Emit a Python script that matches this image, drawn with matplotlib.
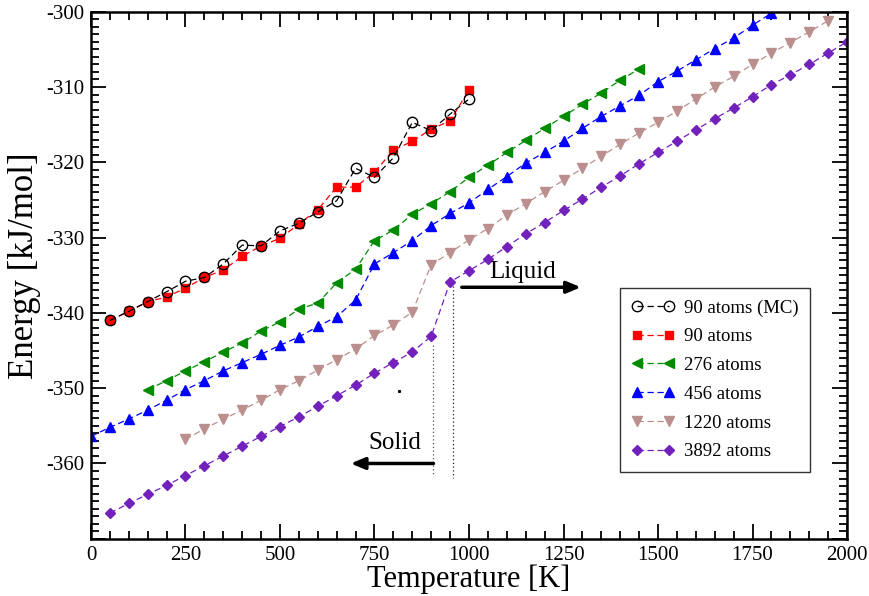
import matplotlib
matplotlib.use("Agg")
import matplotlib.pyplot as plt
from matplotlib.ticker import MultipleLocator, FuncFormatter

plt.rcParams["font.family"] = ["Liberation Serif", "DejaVu Serif"]
plt.rcParams["axes.unicode_minus"] = False

# Temperature grids [K]
t_mc = [50, 100, 150, 200, 250, 300, 350, 400, 450, 500, 550, 600, 650, 700,
        750, 800, 850, 900, 950, 1000]
e_mc = [-341.0, -339.8, -338.5, -337.2, -335.8, -335.3, -333.5, -331.0, -331.1,
        -329.1, -328.1, -326.6, -325.1, -320.8, -322.0, -319.4, -314.7, -315.8,
        -313.6, -311.6]

t_90 = t_mc
e_90 = [-341.0, -339.8, -338.5, -337.9, -336.7, -335.3, -334.3, -332.5, -331.1,
        -330.1, -328.2, -326.3, -323.3, -323.3, -321.3, -318.4, -317.2, -315.6,
        -314.5, -310.4]

t_276 = list(range(150, 1451, 50))
e_276 = [-350.2, -349.0, -347.7, -346.5, -345.2, -344.0, -342.4, -341.2, -339.5,
         -338.7, -336.0, -334.2, -330.4, -329.0, -326.9, -325.5, -323.9, -322.0,
         -320.4, -318.7, -317.1, -315.5, -313.9, -312.3, -310.8, -309.1, -307.6]

t_456 = list(range(0, 1801, 50))
e_456 = [-356.4, -355.2, -354.1, -352.9, -351.6, -350.2, -349.0, -347.7, -346.6,
         -345.5, -344.3, -343.2, -341.8, -340.5, -338.3, -333.5, -332.0, -330.4,
         -328.4, -326.8, -325.4, -323.6, -321.9, -320.1, -318.7, -317.2, -315.5,
         -313.9, -312.5, -311.1, -309.3, -307.9, -306.4, -304.9, -303.5, -301.8,
         -300.2]

t_1220 = list(range(250, 1951, 50))
e_1220 = [-356.8, -355.4, -354.1, -352.9, -351.6, -350.2, -349.0, -347.6, -346.2,
          -344.8, -343.0, -341.6, -339.9, -333.6, -332.0, -330.3, -328.8, -327.0,
          -325.5, -323.9, -322.4, -320.8, -319.2, -317.6, -316.1, -314.7, -313.2,
          -311.6, -310.0, -308.6, -307.0, -305.5, -304.1, -302.7, -301.2]

t_3892 = list(range(50, 2001, 50))
e_3892 = [-366.6, -365.3, -364.1, -362.9, -361.6, -360.3, -359.0, -357.7, -356.4,
          -355.1, -353.8, -352.4, -351.0, -349.6, -348.0, -346.6, -345.2, -343.1,
          -335.9, -334.4, -332.9, -331.2, -329.5, -328.0, -326.4, -324.9, -323.3,
          -321.8, -320.2, -318.7, -317.2, -315.7, -314.2, -312.8, -311.3, -309.7,
          -308.4, -307.0, -305.5, -304.0]

labels = ["90 atoms (MC)", "90 atoms", "276 atoms", "456 atoms", "1220 atoms",
          "3892 atoms"]

green4 = "#008b00"
brown = "#bc8f8f"
indigo = "#7221bc"

fig = plt.figure(figsize=(8.69, 5.96), dpi=100)
ax = fig.add_axes([0.1047, 0.0960, 0.8700, 0.8844])

dash = (0, (5, 3))
ax.plot(t_90, e_90, color="red", ls=dash, lw=0.9, marker="s", ms=6,
        mfc="red", mec="red", label=labels[1], zorder=3)
ax.plot(t_mc, e_mc, color="black", ls=dash, lw=0.9, marker="o", ms=7.5,
        mfc="none", mec="black", mew=1.0, label=labels[0], zorder=4)
ax.plot(t_276, e_276, color=green4, ls=dash, lw=0.9, marker="<", ms=7,
        mfc=green4, mec=green4, label=labels[2])
ax.plot(t_456, e_456, color="blue", ls=dash, lw=0.9, marker="^", ms=7,
        mfc="blue", mec="blue", label=labels[3])
ax.plot(t_1220, e_1220, color=brown, ls=dash, lw=0.9, marker="v", ms=7,
        mfc=brown, mec=brown, label=labels[4])
ax.plot(t_3892, e_3892, color=indigo, ls=dash, lw=0.9, marker="D", ms=5.5,
        mfc=indigo, mec=indigo, label=labels[5])

# melting region markers
ax.plot([906, 906], [-344.3, -361.6], color="#555555", ls=(0, (1, 2)), lw=0.9)
ax.plot([957, 957], [-336.4, -361.9], color="#222222", ls=(0, (1, 2)), lw=0.9)
ax.plot([815], [-350.4], marker="s", ms=1.2, color="black", ls="none")

ax.annotate("", xy=(687, -360.0), xytext=(906, -360.0),
            arrowprops=dict(arrowstyle="-|>,head_length=0.6,head_width=0.25",
                            color="black", lw=2.5, mutation_scale=14,
                            shrinkA=0, shrinkB=0))
ax.annotate("", xy=(1296, -336.6), xytext=(981, -336.6),
            arrowprops=dict(arrowstyle="-|>,head_length=0.6,head_width=0.25",
                            color="black", lw=2.5, mutation_scale=14,
                            shrinkA=0, shrinkB=0))
ax.text(804, -357.3, "Solid", ha="center", va="center", fontsize=18)
ax.text(1143, -334.6, "Liquid", ha="center", va="center", fontsize=18)

ax.set_xlim(0, 2000)
ax.set_ylim(-370, -300)
ax.xaxis.set_major_locator(MultipleLocator(250))
ax.xaxis.set_minor_locator(MultipleLocator(50))
ax.yaxis.set_major_locator(MultipleLocator(10))
ax.yaxis.set_minor_locator(MultipleLocator(1))
ax.yaxis.set_major_formatter(
    FuncFormatter(lambda v, p: "" if v < -365 else "%d" % round(v)))
ax.tick_params(which="both", direction="in", top=True, right=True, width=1.3,
               labelsize=15, pad=5)
ax.tick_params(which="major", length=11)
ax.tick_params(which="minor", length=6)
for s in ax.spines.values():
    s.set_linewidth(1.8)

ax.set_xlabel("Temperature [K]", fontsize=22, labelpad=0)
ax.set_ylabel("Energy [kJ/mol]", fontsize=25)
ax.yaxis.set_label_coords(-0.066, 0.519)

handles, labs = ax.get_legend_handles_labels()
order = [labs.index(l) for l in labels]
leg = ax.legend([handles[i] for i in order], [labs[i] for i in order],
                loc="upper left", bbox_to_anchor=(0.6997, 0.4758),
                borderaxespad=0, numpoints=2, fontsize=13.5, frameon=True,
                fancybox=False, edgecolor="black", handlelength=2.3,
                labelspacing=0.62, borderpad=0.6, handletextpad=0.5)
leg.get_frame().set_linewidth(1.0)

fig.savefig("out.png", dpi=100)
